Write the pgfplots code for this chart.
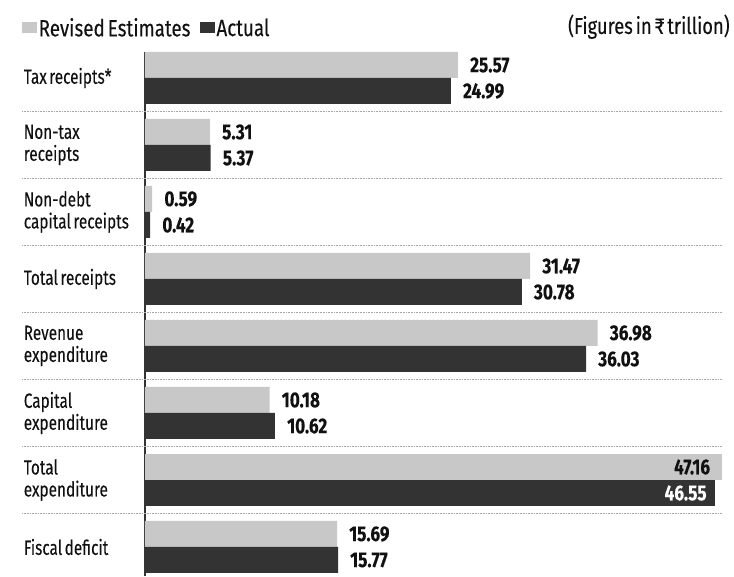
\documentclass[border=0pt]{standalone}
\usepackage{pgfplots}
\pgfplotsset{compat=1.18}
\usepackage{fontspec}
\setmainfont{Fira Sans}[FakeStretch=0.8, WordSpace=0.6, FakeBold=0.15]
\newfontfamily\labfont{Fira Sans}[FakeStretch=0.75, WordSpace=0.6, FakeBold=0.1]
\definecolor{cRE}{HTML}{C8C8C8}
\definecolor{cAC}{HTML}{333333}
\definecolor{cTxt}{HTML}{111111}
\definecolor{cSep}{HTML}{A8A8A8}
\begin{document}
\begin{tikzpicture}
\begin{axis}[
  x=12.24pt, y=67pt,
  xmin=0, xmax=48, ymin=-0.433, ymax=7.388,
  xbar, bar width=26pt,
  axis x line=none, axis y line*=left,
  y axis line style={draw=cAC, line width=1.4pt},
  xtick=\empty,
  ytick={0,...,7},
  yticklabels={Fiscal deficit,{Total\\expenditure},{Capital\\expenditure},{Revenue\\expenditure},Total receipts,{Non-debt\\capital receipts},{Non-tax\\receipts},Tax receipts*},
  major tick length=0pt,
  yticklabel style={text width=121pt, align=flush left, inner sep=0pt, font=\labfont\fontsize{20.5}{22}\selectfont, text=cTxt},
  clip=false,
  /pgf/number format/assume math mode=true,
  legend columns=-1,
  legend style={at={(0,1)}, anchor=west, xshift=-123pt, yshift=24pt, draw=none, fill=none, inner sep=0pt,
    font=\fontsize{23.5}{26}\selectfont, text=cTxt,
    nodes={inner sep=1.5pt},
    /tikz/every even column/.append style={column sep=8pt}},
  legend image code/.code={\fill[#1] (0pt,-5.5pt) rectangle (15pt,5.5pt);},
  point meta=x,
  nodes near coords={\pgfmathprintnumber[fixed,fixed zerofill,precision=2]{\pgfplotspointmeta}},
  nodes near coords style={anchor=west, inner sep=0pt, xshift=12pt, font=\bfseries\fontsize{21.5}{24}\selectfont, text=cTxt},
]
\path (axis cs:-11.846,8.164) rectangle (axis cs:48.12,-0.433);
\draw[cSep, line width=0.8pt, dash pattern=on 0.8pt off 0.8pt] (axis cs:-10.05,6.5) -- (axis cs:47.2,6.5);
\draw[cSep, line width=0.8pt, dash pattern=on 0.8pt off 0.8pt] (axis cs:-10.05,5.5) -- (axis cs:47.2,5.5);
\draw[cSep, line width=0.8pt, dash pattern=on 0.8pt off 0.8pt] (axis cs:-10.05,4.5) -- (axis cs:47.2,4.5);
\draw[cSep, line width=0.8pt, dash pattern=on 0.8pt off 0.8pt] (axis cs:-10.05,3.5) -- (axis cs:47.2,3.5);
\draw[cSep, line width=0.8pt, dash pattern=on 0.8pt off 0.8pt] (axis cs:-10.05,2.5) -- (axis cs:47.2,2.5);
\draw[cSep, line width=0.8pt, dash pattern=on 0.8pt off 0.8pt] (axis cs:-10.05,1.5) -- (axis cs:47.2,1.5);
\draw[cSep, line width=0.8pt, dash pattern=on 0.8pt off 0.8pt] (axis cs:-10.05,0.5) -- (axis cs:47.2,0.5);
\addlegendimage{fill=cRE, draw=none}
\addlegendentry{Revised Estimates}
\addlegendimage{fill=cAC, draw=none}
\addlegendentry{Actual}
% Revised Estimates
\addplot[forget plot, fill=cRE, draw=none, bar shift=13pt] coordinates {
  (25.57,7) (5.31,6) (0.59,5) (31.47,4) (36.98,3) (10.18,2) (15.69,0)};
% Actual
\addplot[forget plot, fill=cAC, draw=none, bar shift=-13pt] coordinates {
  (24.99,7) (5.37,6) (0.42,5) (30.78,4) (36.03,3) (10.62,2) (15.77,0)};
% Total expenditure (labels inside the bars)
\addplot[forget plot, fill=cRE, draw=none, bar shift=13pt,
  nodes near coords style={anchor=east, xshift=-24pt, text=cTxt}] coordinates {(47.16,1)};
\addplot[forget plot, fill=cAC, draw=none, bar shift=-13pt,
  nodes near coords style={anchor=east, xshift=-20pt, text=white}] coordinates {(46.55,1)};
\node[anchor=base east, font=\fontsize{23}{26}\selectfont, text=cTxt, inner sep=0pt] at (axis cs:47.79,7.657) {(Figures in ₹ trillion)};
\end{axis}
\end{tikzpicture}
\end{document}
